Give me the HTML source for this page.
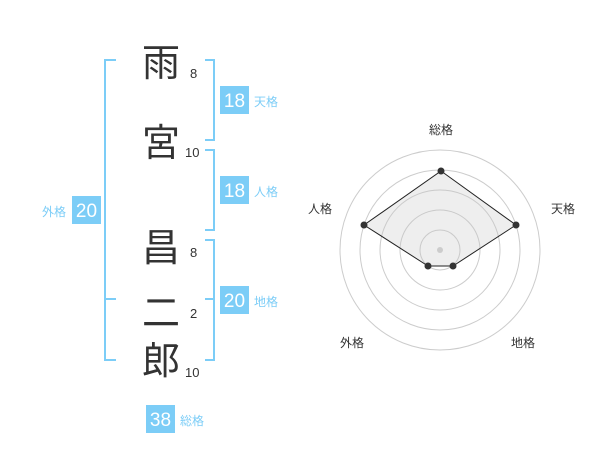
<!DOCTYPE html>
<html><head><meta charset="utf-8"><style>
body{margin:0;width:600px;height:470px;background:#fff;overflow:hidden}
svg{display:block}
.k{font-family:"Liberation Sans","Noto Sans CJK JP",sans-serif;font-size:38px;fill:#333}
.n{font-family:"Liberation Sans",sans-serif;font-size:13px;fill:#333}
.b{font-family:"Liberation Sans",sans-serif;font-size:19px;fill:#fff}
.l{font-family:"Liberation Sans","Noto Sans CJK JP",sans-serif;font-size:12px;fill:#7ccdf7}
.r{font-family:"Liberation Sans","Noto Sans CJK JP",sans-serif;font-size:12px;fill:#333}
</style></head><body>
<svg width="600" height="470" xmlns="http://www.w3.org/2000/svg">
<g fill="none" stroke="#7ccdf7" stroke-width="2">
<path d="M116 60H105V360H116M105 299H116"/>
<path d="M205 60H214V140H205"/>
<path d="M205 150H214V230H205"/>
<path d="M205 240H214V360H205M214 299H205"/>
</g>
<text class="k" x="161" y="76" text-anchor="middle">雨</text>
<text class="k" x="161" y="156" text-anchor="middle">宮</text>
<text class="k" x="161" y="261" text-anchor="middle">昌</text>
<text class="k" x="161" y="326" text-anchor="middle">二</text>
<text class="k" x="161" y="374" text-anchor="middle">郎</text>
<text class="n" x="190" y="78">8</text>
<text class="n" x="185" y="157">10</text>
<text class="n" x="190" y="257">8</text>
<text class="n" x="190" y="318">2</text>
<text class="n" x="185" y="377">10</text>
<g fill="#7ccdf7">
<rect x="220" y="86" width="29" height="28"/>
<rect x="220" y="176" width="29" height="28"/>
<rect x="220" y="286" width="29" height="28"/>
<rect x="72" y="196" width="29" height="28"/>
<rect x="146" y="405" width="29" height="28"/>
</g>
<text class="b" x="234.5" y="107" text-anchor="middle">18</text>
<text class="b" x="234.5" y="197" text-anchor="middle">18</text>
<text class="b" x="234.5" y="307" text-anchor="middle">20</text>
<text class="b" x="86.5" y="217" text-anchor="middle">20</text>
<text class="b" x="160.5" y="426" text-anchor="middle">38</text>
<text class="l" x="254" y="106">天格</text>
<text class="l" x="254" y="196">人格</text>
<text class="l" x="254" y="306">地格</text>
<text class="l" x="42" y="216">外格</text>
<text class="l" x="180" y="425">総格</text>
<g fill="none" stroke="#ccc" stroke-width="1">
<circle cx="440" cy="250" r="100"/><circle cx="440" cy="250" r="80"/>
<circle cx="440" cy="250" r="60"/><circle cx="440" cy="250" r="40"/>
<circle cx="440" cy="250" r="20"/>
</g>
<polygon points="441,171 516,225 453,266 428,266 364,225" fill="rgba(200,200,200,0.3)" stroke="#222" stroke-width="1"/>
<circle cx="440" cy="250" r="3" fill="#ccc"/>
<g fill="#333">
<circle cx="441" cy="171" r="3.5"/><circle cx="516" cy="225" r="3.5"/>
<circle cx="453" cy="266" r="3.5"/><circle cx="428" cy="266" r="3.5"/>
<circle cx="364" cy="225" r="3.5"/>
</g>
<text class="r" x="441" y="134" text-anchor="middle">総格</text>
<text class="r" x="563" y="213" text-anchor="middle">天格</text>
<text class="r" x="320" y="213" text-anchor="middle">人格</text>
<text class="r" x="352" y="347" text-anchor="middle">外格</text>
<text class="r" x="523" y="347" text-anchor="middle">地格</text>
</svg>
</body></html>
